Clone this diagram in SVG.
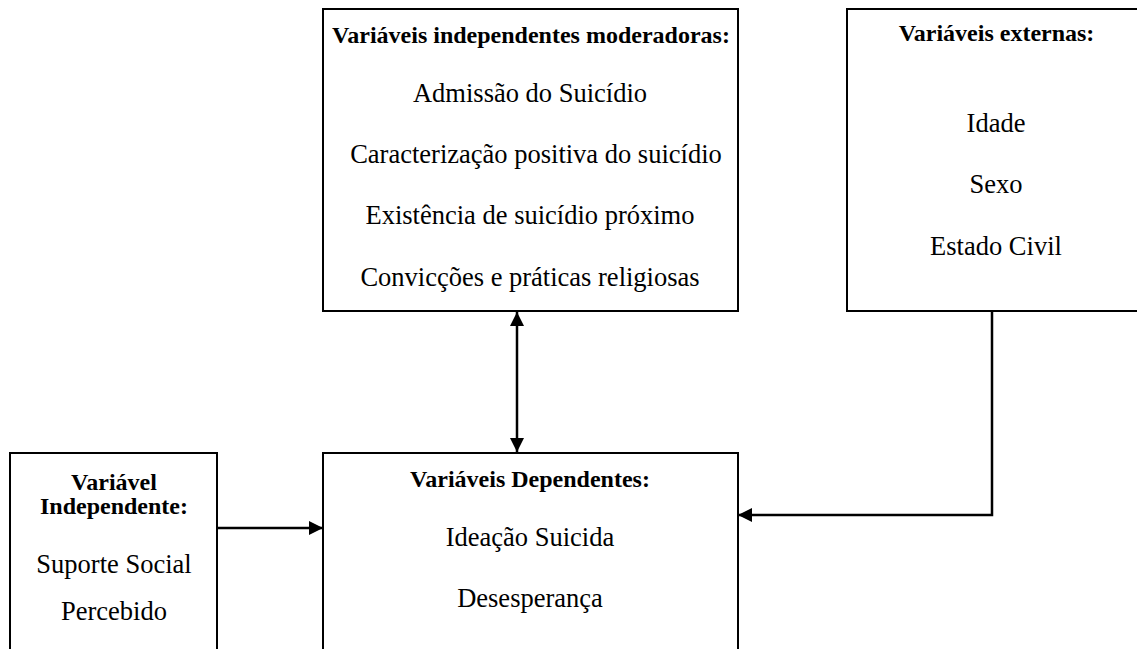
<svg xmlns="http://www.w3.org/2000/svg" width="1137" height="649" viewBox="0 0 1137 649">
<defs>
<style>
.box{fill:#fff;stroke:#000;stroke-width:2}
.t{font-family:"Liberation Serif","Times New Roman",serif;font-size:24px;font-weight:bold;text-anchor:middle;fill:#000}
.b{font-family:"Liberation Serif","Times New Roman",serif;font-size:26.5px;text-anchor:middle;fill:#000}
.c{fill:none;stroke:#000;stroke-width:2.5}
</style>
<marker id="ah" viewBox="0 0 10 10" refX="10" refY="5" markerWidth="14" markerHeight="14" markerUnits="userSpaceOnUse" orient="auto-start-reverse">
<path d="M0,0 L10,5 L0,10 Z" fill="#000"/>
</marker>
</defs>
<rect width="1137" height="649" fill="#fff"/>
<g id="moderadoras">
<rect class="box" x="323" y="9" width="415" height="302"/>
<text class="t" x="531" y="43">Variáveis independentes moderadoras:</text>
<text class="b" x="530" y="102">Admissão do Suicídio</text>
<text class="b" x="536" y="163">Caracterização positiva do suicídio</text>
<text class="b" x="530" y="224">Existência de suicídio próximo</text>
<text class="b" x="530" y="286">Convicções e práticas religiosas</text>
</g>
<g id="externas">
<rect class="box" x="847" y="9" width="300" height="302"/>
<text class="t" x="996.5" y="41">Variáveis externas:</text>
<text class="b" x="996" y="132">Idade</text>
<text class="b" x="996" y="193">Sexo</text>
<text class="b" x="996" y="255">Estado Civil</text>
</g>
<g id="independente">
<rect class="box" x="10" y="453" width="207" height="210"/>
<text class="t" x="114" y="490">Variável</text>
<text class="t" x="114" y="514">Independente:</text>
<text class="b" x="114" y="573">Suporte Social</text>
<text class="b" x="114" y="620">Percebido</text>
</g>
<g id="dependentes">
<rect class="box" x="323" y="453" width="415" height="210"/>
<text class="t" x="530" y="487">Variáveis Dependentes:</text>
<text class="b" x="530" y="546">Ideação Suicida</text>
<text class="b" x="530" y="607">Desesperança</text>
</g>
<g id="connectors">
<line class="c" x1="217" y1="528" x2="323" y2="528" marker-end="url(#ah)"/>
<line class="c" x1="517" y1="312" x2="517" y2="452" marker-start="url(#ah)" marker-end="url(#ah)"/>
<polyline class="c" points="992,311 992,515 738,515" marker-end="url(#ah)"/>
</g>
</svg>
